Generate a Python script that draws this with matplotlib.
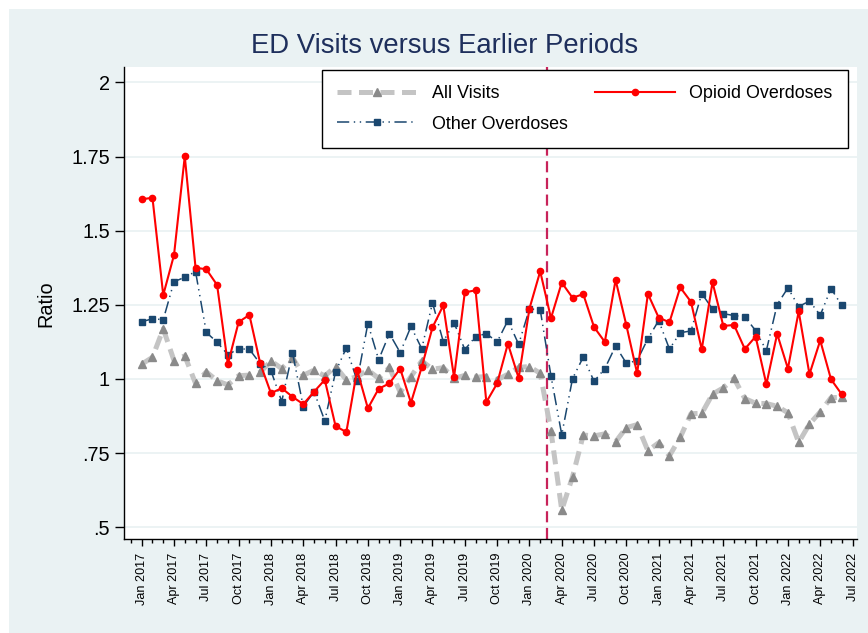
import numpy as np
import pandas as pd
import matplotlib
matplotlib.use('Agg')
import matplotlib.pyplot as plt
from matplotlib.patches import Rectangle
from matplotlib.ticker import MultipleLocator

plt.rcParams['font.family'] = ['Liberation Sans', 'DejaVu Sans']

# monthly ratios, Jan 2017 - Jun 2022
months = pd.period_range('2017-01', '2022-06', freq='M')

all_visits = [1.050, 1.073, 1.169, 1.062, 1.078, 0.985, 1.024, 0.994, 0.980, 1.011, 1.013, 1.022,
              1.061, 1.035, 1.072, 1.012, 1.030, 1.010, 1.042, 0.997, 1.008, 1.030, 1.002, 1.039,
              0.955, 1.008, 1.061, 1.033, 1.038, 1.002, 1.012, 1.006, 1.008, 0.997, 1.016, 1.039,
              1.042, 1.019, 0.825, 0.558, 0.670, 0.811, 0.808, 0.815, 0.788, 0.836, 0.846, 0.758,
              0.785, 0.741, 0.803, 0.883, 0.884, 0.949, 0.970, 1.002, 0.934, 0.918, 0.917, 0.908,
              0.886, 0.786, 0.848, 0.889, 0.937, 0.938]

other_od = [1.193, 1.203, 1.200, 1.328, 1.343, 1.362, 1.157, 1.124, 1.082, 1.102, 1.100, 1.052,
            1.028, 0.924, 1.089, 0.907, 0.957, 0.859, 1.024, 1.105, 0.994, 1.187, 1.065, 1.153,
            1.089, 1.177, 1.102, 1.257, 1.126, 1.190, 1.099, 1.143, 1.153, 1.125, 1.197, 1.117,
            1.236, 1.234, 1.010, 0.812, 1.001, 1.074, 0.992, 1.035, 1.111, 1.053, 1.062, 1.136,
            1.197, 1.101, 1.156, 1.162, 1.288, 1.236, 1.220, 1.214, 1.210, 1.163, 1.096, 1.251,
            1.307, 1.244, 1.263, 1.215, 1.305, 1.248]

opioid_od = [1.606, 1.611, 1.283, 1.418, 1.751, 1.375, 1.370, 1.317, 1.050, 1.192, 1.216, 1.053,
             0.952, 0.969, 0.940, 0.915, 0.957, 0.997, 0.841, 0.821, 1.030, 0.901, 0.967, 0.985,
             1.035, 0.920, 1.040, 1.174, 1.248, 1.006, 1.292, 1.299, 0.922, 0.985, 1.119, 1.003,
             1.237, 1.363, 1.205, 1.325, 1.274, 1.286, 1.175, 1.125, 1.334, 1.181, 1.019, 1.287,
             1.207, 1.191, 1.309, 1.260, 1.100, 1.326, 1.179, 1.182, 1.101, 1.143, 0.982, 1.152,
             1.035, 1.228, 1.016, 1.130, 0.999, 0.948]

covid_line = 37.6  # months after Jan 2017
y_ticks = [0.5, 0.75, 1, 1.25, 1.5, 1.75, 2]
y_labels = ['.5', '.75', '1', '1.25', '1.5', '1.75', '2']

x = np.arange(len(months))
# labels every quarter, running one past the data (Jul 2022)
tick_pos = np.arange(0, len(months) + 1, 3)
tick_labels = [(months[0] + int(p)).strftime('%b %Y') for p in tick_pos]

fig = plt.figure(figsize=(8.68, 6.33), dpi=100)
fig.patch.set_facecolor('white')
# stata graph region
fig.add_artist(Rectangle((9 / 868, 0), 1, 1 - 9 / 633, transform=fig.transFigure,
                         facecolor='#EAF2F3', edgecolor='none', zorder=-10))

ax = fig.add_axes([0.14286, 0.14771, 0.84504, 0.74644])
ax.set_facecolor('white')

ax.axvline(covid_line, color='#C8235A', lw=1.6, dashes=(5, 2.5), zorder=1)

ax.plot(x, all_visits, color='#C4C4C4', lw=3.6, dashes=(2.8, 1.5),
        marker='^', ms=6, mfc='#8A8A8A', mec='#8A8A8A', label='All Visits', zorder=2)
ax.plot(x, other_od, color='#1A476F', lw=1.1, dashes=(8, 3, 0.9, 3, 0.9, 3),
        marker='s', ms=5, mfc='#1A476F', mec='#1A476F', label='Other Overdoses', zorder=3)
ax.plot(x, opioid_od, color='#FF0000', lw=1.5, marker='o', ms=4.5,
        mfc='#FF0000', mec='#FF0000', label='Opioid Overdoses', zorder=4)

ax.set_xlim(-1.643, 66.46)
ax.set_ylim(0.4587, 2.052)

ax.set_yticks(y_ticks)
ax.set_yticklabels(y_labels)
ax.yaxis.grid(True, color='#EAF2F3', lw=1.3)
ax.set_axisbelow(True)

ax.set_xticks(tick_pos)
ax.set_xticklabels(tick_labels, rotation=90)
ax.xaxis.set_minor_locator(MultipleLocator(1))

for s in ['top', 'right']:
    ax.spines[s].set_visible(False)
for s in ['left', 'bottom']:
    ax.spines[s].set_linewidth(1.0)
    ax.spines[s].set_color('black')

ax.tick_params(axis='y', length=6.5, width=1, pad=3.5, labelsize=14.3)
ax.tick_params(axis='x', which='major', length=5, width=1, pad=4.5, labelsize=9.1)
ax.tick_params(axis='x', which='minor', length=3, width=1)

ax.set_ylabel('Ratio', fontsize=14.3)
ax.yaxis.set_label_coords(-0.093, 0.5)

fig.text(0.512, 0.9277, 'ED Visits versus Earlier Periods', ha='center', va='center',
         fontsize=19.8, color='#1E2F5C')

leg = ax.legend(loc='upper right', bbox_to_anchor=(0.987, 0.9937), ncol=2,
                fontsize=12.9, frameon=True, fancybox=False, edgecolor='black',
                framealpha=1, handlelength=4.5, handletextpad=0.8, columnspacing=1.5,
                borderpad=0.85, labelspacing=0.75, borderaxespad=0)
leg.get_frame().set_linewidth(1.0)

plt.savefig('out.png', dpi=100)
